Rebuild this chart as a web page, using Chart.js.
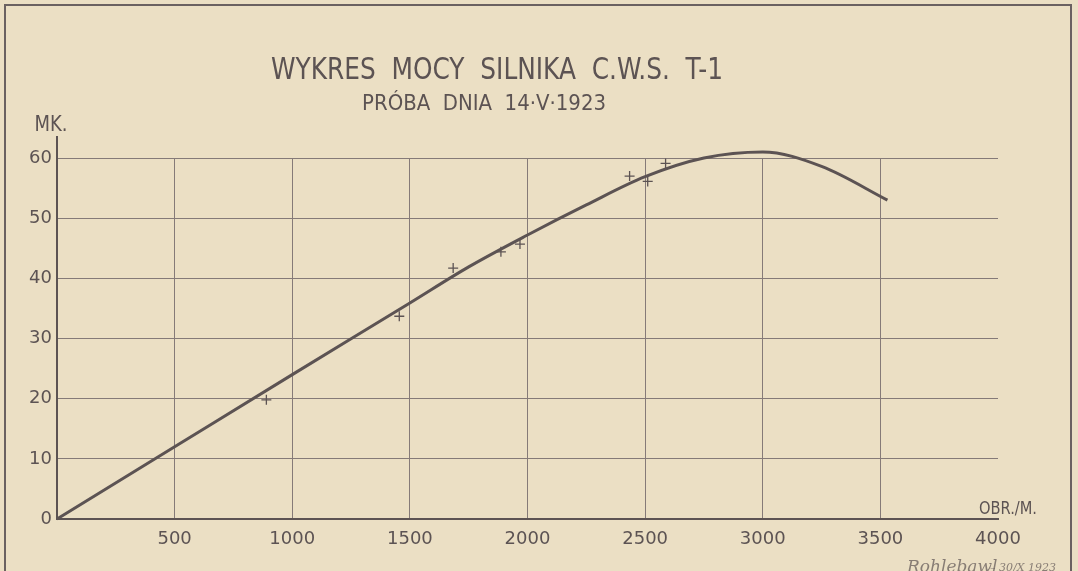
<!DOCTYPE html>
<html>
<head>
<meta charset="utf-8">
<script src="https://cdn.jsdelivr.net/npm/chart.js@4/dist/chart.umd.min.js"></script>
<style>
  html,body{margin:0;padding:0;background:#ebdfc4}
  #wrap{width:1078px;height:571px;position:relative}
</style>
</head>
<body>
<div id="wrap"><canvas id="c" width="1078" height="571"></canvas></div>
<script>
// smooth power curve
const curveRpm = [0, 500, 1000, 1500, 1750, 2000, 2250, 2500, 2750, 3000, 3250, 3530];
const curveMk  = [0, 12, 24, 35.9, 41.9, 47.2, 52.2, 56.9, 60.0, 61.0, 58.6, 53];
// measured points (+ marks)
const testRpm = [890, 1455, 1684, 1887, 1968, 2434, 2511, 2587, 2990];
const testMk  = [19.8, 33.7, 41.7, 44.4, 45.7, 57.0, 56.1, 59.1, 61.6];
const xTicks = [0, 500, 1000, 1500, 2000, 2500, 3000, 3500, 4000];
const yTicks = [0, 10, 20, 30, 40, 50, 60];

const INK = '#5c5353';
const GRID = '#857a78';
const FONT = '"DejaVu Sans", sans-serif';

function pts(xs, ys){ return xs.map((x,i)=>({x, y: ys[i]})) }

// draw text squeezed to a given width (lettering on the sheet is narrow)
function fitText(ctx, txt, cx, y, w){
  const m = ctx.measureText(txt).width;
  ctx.save();
  ctx.translate(cx, y);
  ctx.scale(w / m, 1);
  ctx.fillText(txt, 0, 0);
  ctx.restore();
}

const deco = {
  id: 'deco',
  beforeDraw(chart){
    const ctx = chart.ctx;
    ctx.save();
    ctx.fillStyle = '#ebdfc4';
    ctx.fillRect(0,0,chart.width,chart.height);
    ctx.restore();
  },
  afterDraw(chart){
    const ctx = chart.ctx, a = chart.chartArea;
    ctx.save();
    // sheet frame
    ctx.strokeStyle = '#6a6161'; ctx.lineWidth = 2;
    ctx.beginPath();
    ctx.moveTo(5, chart.height + 2); ctx.lineTo(5, 5); ctx.lineTo(1071, 5); ctx.lineTo(1071, chart.height + 2);
    ctx.stroke();
    // y axis runs on above 60
    ctx.strokeStyle = INK; ctx.lineWidth = 2;
    ctx.beginPath(); ctx.moveTo(a.left, a.top); ctx.lineTo(a.left, a.top - 22); ctx.stroke();

    ctx.fillStyle = INK;
    ctx.textAlign = 'center'; ctx.textBaseline = 'alphabetic';
    ctx.font = '30px "DejaVu Sans Condensed", sans-serif';
    fitText(ctx, 'WYKRES  MOCY  SILNIKA  C.W.S.  T-1', 497, 79, 452);
    ctx.font = '21px "DejaVu Sans Condensed", sans-serif';
    fitText(ctx, 'PRÓBA  DNIA  14·V·1923', 484, 110, 244);
    ctx.font = '21px "DejaVu Sans Condensed", sans-serif';
    fitText(ctx, 'MK.', 51, 131, 33);
    ctx.font = '17px "DejaVu Sans Condensed", sans-serif';
    fitText(ctx, 'OBR./M.', 1008, 514, 58);
    // signature
    ctx.globalAlpha = 0.7;
    ctx.textAlign = 'left';
    ctx.font = 'italic 17px "DejaVu Serif", serif';
    ctx.fillText('Rohlebawl', 907, 572);
    ctx.font = 'italic 11px "DejaVu Serif", serif';
    ctx.fillText('– 30/X 1923', 990, 571);
    ctx.restore();
  }
};

new Chart(document.getElementById('c'), {
  type: 'line',
  data: {
    datasets: [
      {
        label: 'krzywa mocy',
        data: pts(curveRpm, curveMk),
        borderColor: INK, borderWidth: 3,
        pointRadius: 0, fill: false, clip: false,
        cubicInterpolationMode: 'monotone'
      },
      {
        label: 'pomiary',
        type: 'scatter',
        data: pts(testRpm, testMk),
        pointStyle: 'cross', pointRadius: 5, clip: false,
        borderColor: INK, borderWidth: 1.3, showLine: false
      }
    ]
  },
  options: {
    responsive: false,
    animation: false,
    layout: { padding: { top: 158, right: 80, bottom: 0, left: 0 } },
    plugins: { legend: { display: false }, tooltip: { enabled: false } },
    scales: {
      x: {
        type: 'linear', min: 0, max: 4000,
        afterBuildTicks: s => { s.ticks = xTicks.map(v => ({ value: v })) },
        afterFit: s => { s.height = 52 },
        grid: {
          color: c => (c.tick && (c.tick.value === 0 || c.tick.value === 4000)) ? 'rgba(0,0,0,0)' : GRID,
          lineWidth: 1, drawTicks: false
        },
        border: { color: INK, width: 2 },
        ticks: {
          color: INK, font: { family: FONT, size: 18 }, padding: 10,
          maxRotation: 0, autoSkip: false,
          callback: v => v === 0 ? '' : String(v)
        }
      },
      y: {
        min: 0, max: 60,
        afterBuildTicks: s => { s.ticks = yTicks.map(v => ({ value: v })) },
        afterFit: s => { s.width = 57 },
        grid: {
          color: c => (c.tick && c.tick.value === 0) ? 'rgba(0,0,0,0)' : GRID,
          lineWidth: 1, drawTicks: false
        },
        border: { color: INK, width: 2 },
        ticks: { color: INK, font: { family: FONT, size: 18 }, padding: 5 }
      }
    }
  },
  plugins: [deco]
});
</script>
</body>
</html>
